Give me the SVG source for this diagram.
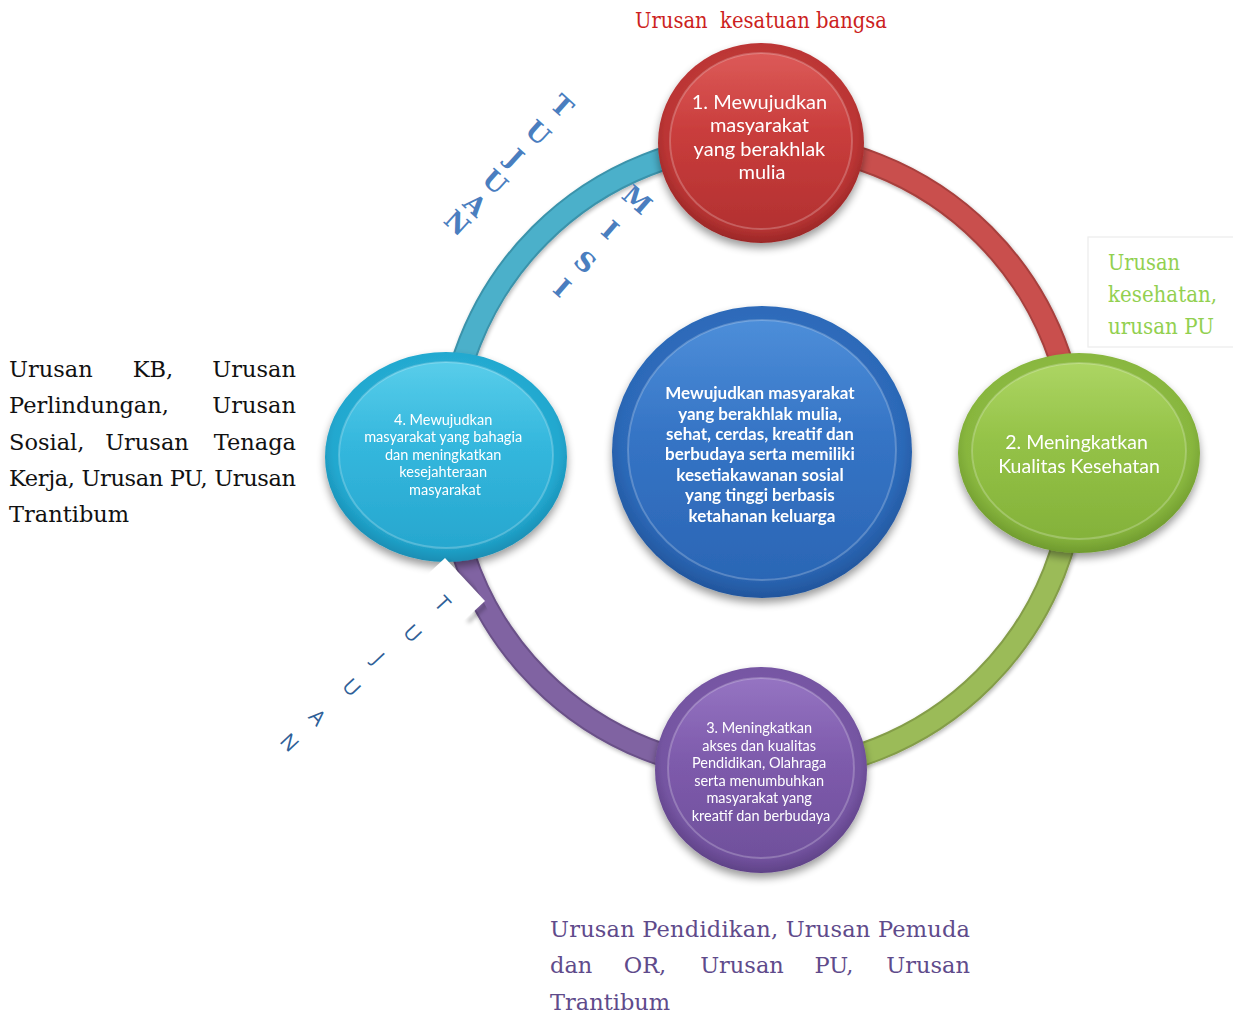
<svg xmlns="http://www.w3.org/2000/svg" width="1233" height="1014" viewBox="0 0 1233 1014">
<defs>
  <filter id="shadow" x="-20%" y="-20%" width="140%" height="150%">
    <feGaussianBlur in="SourceAlpha" stdDeviation="4"/>
    <feOffset dy="5"/>
    <feComponentTransfer><feFuncA type="linear" slope="0.4"/></feComponentTransfer>
    <feMerge><feMergeNode/><feMergeNode in="SourceGraphic"/></feMerge>
  </filter>
  <filter id="soft" x="-10%" y="-10%" width="120%" height="130%">
    <feGaussianBlur in="SourceAlpha" stdDeviation="2"/>
    <feOffset dx="1" dy="2"/>
    <feComponentTransfer><feFuncA type="linear" slope="0.3"/></feComponentTransfer>
    <feMerge><feMergeNode/><feMergeNode in="SourceGraphic"/></feMerge>
  </filter>
  <filter id="blur2" x="-50%" y="-50%" width="200%" height="200%">
    <feGaussianBlur stdDeviation="2"/>
  </filter>
  <clipPath id="ringClip">
    <path d="M 762 771 A 314 314 0 0 1 448 457 L 420 457 L 420 800 L 762 800 Z"/>
  </clipPath>
  <radialGradient id="rimRed" cx="50%" cy="45%" r="55%"><stop offset="0" stop-color="#d24a48"/><stop offset="0.85" stop-color="#bb3534"/><stop offset="1" stop-color="#9a2727"/></radialGradient>
  <linearGradient id="faceRed" x1="0" y1="0" x2="0" y2="1"><stop offset="0" stop-color="#dc5a58"/><stop offset="0.45" stop-color="#c93d3c"/><stop offset="1" stop-color="#b33131"/></linearGradient>
  <radialGradient id="rimGreen" cx="50%" cy="45%" r="55%"><stop offset="0" stop-color="#9fcb52"/><stop offset="0.85" stop-color="#88b63e"/><stop offset="1" stop-color="#6f9a2e"/></radialGradient>
  <linearGradient id="faceGreen" x1="0" y1="0" x2="0" y2="1"><stop offset="0" stop-color="#acd563"/><stop offset="0.45" stop-color="#94c247"/><stop offset="1" stop-color="#84b23a"/></linearGradient>
  <radialGradient id="rimPurple" cx="50%" cy="45%" r="55%"><stop offset="0" stop-color="#8a66b6"/><stop offset="0.85" stop-color="#7555a2"/><stop offset="1" stop-color="#5f4287"/></radialGradient>
  <linearGradient id="facePurple" x1="0" y1="0" x2="0" y2="1"><stop offset="0" stop-color="#9574c2"/><stop offset="0.45" stop-color="#7e5bac"/><stop offset="1" stop-color="#70509c"/></linearGradient>
  <radialGradient id="rimCyan" cx="50%" cy="45%" r="55%"><stop offset="0" stop-color="#3cc0e2"/><stop offset="0.85" stop-color="#22a8cf"/><stop offset="1" stop-color="#1a8db3"/></radialGradient>
  <linearGradient id="faceCyan" x1="0" y1="0" x2="0" y2="1"><stop offset="0" stop-color="#58cdea"/><stop offset="0.45" stop-color="#34b7dd"/><stop offset="1" stop-color="#27a7cf"/></linearGradient>
  <radialGradient id="rimBlue" cx="50%" cy="45%" r="55%"><stop offset="0" stop-color="#3d80d0"/><stop offset="0.85" stop-color="#2c69b8"/><stop offset="1" stop-color="#22559c"/></radialGradient>
  <linearGradient id="faceBlue" x1="0" y1="0" x2="0" y2="1"><stop offset="0" stop-color="#4d8ed9"/><stop offset="0.45" stop-color="#3574c5"/><stop offset="1" stop-color="#2b66b5"/></linearGradient>
</defs>
<style>
  .arc { fill: none; stroke-width: 24; }
  .arcIn { fill: none; stroke-width: 20; }
  .face { stroke: #ffffff; stroke-opacity: 0.22; stroke-width: 2; }
  .lbl { font-family: Lato, "Open Sans", sans-serif; fill: #ffffff; text-anchor: middle; }
  .serif { font-family: "DejaVu Serif", "Liberation Serif", serif; font-size: 22.5px; }
  .slab { font-family: "DejaVu Serif", serif; font-weight: bold; font-size: 26px; fill: #4a7ebf; text-anchor: middle; dominant-baseline: central; }
  .thin { font-family: "Open Sans", "Liberation Sans", sans-serif; font-size: 21px; fill: #2f5f98; text-anchor: middle; dominant-baseline: central; }
</style>

<rect width="1233" height="1014" fill="#ffffff"/>

<!-- ring segments between the four mission nodes -->
<g id="connectors" filter="url(#soft)">
  <path class="arc" stroke="#a8403e" d="M 762 143 A 314 314 0 0 1 1076 457"/>
  <path class="arcIn" stroke="#c9504e" d="M 762 143 A 314 314 0 0 1 1076 457"/>
  <path class="arc" stroke="#849d48" d="M 1076 457 A 314 314 0 0 1 762 771"/>
  <path class="arcIn" stroke="#9bbb59" d="M 1076 457 A 314 314 0 0 1 762 771"/>
  <path class="arc" stroke="#6b5189" d="M 762 771 A 314 314 0 0 1 448 457"/>
  <path class="arcIn" stroke="#8064a2" d="M 762 771 A 314 314 0 0 1 448 457"/>
  <path class="arc" stroke="#3b93ab" d="M 448 457 A 314 314 0 0 1 762 143"/>
  <path class="arcIn" stroke="#4bb0ca" d="M 448 457 A 314 314 0 0 1 762 143"/>
</g>

<!-- centre: vision -->
<g id="node-vision" filter="url(#shadow)">
  <ellipse cx="762" cy="452" rx="150" ry="146" fill="url(#rimBlue)"/>
  <ellipse class="face" cx="762" cy="450" rx="134" ry="130" fill="url(#faceBlue)"/>
  <text class="lbl" font-size="17" font-weight="bold">
    <tspan x="762" y="399">Mewujudkan masyarakat</tspan>
    <tspan x="762" y="420">yang berakhlak mulia,</tspan>
    <tspan x="762" y="440">sehat, cerdas, kreatif dan</tspan>
    <tspan x="762" y="460">berbudaya serta memiliki</tspan>
    <tspan x="762" y="481">kesetiakawanan sosial</tspan>
    <tspan x="762" y="501">yang tinggi berbasis</tspan>
    <tspan x="762" y="522">ketahanan keluarga</tspan>
  </text>
</g>

<!-- mission 1 -->
<g id="node-misi1" filter="url(#shadow)">
  <ellipse cx="761" cy="143" rx="103" ry="100" fill="url(#rimRed)"/>
  <ellipse class="face" cx="761" cy="141" rx="91" ry="88" fill="url(#faceRed)"/>
  <text class="lbl" font-size="20">
    <tspan x="762" y="109">1. Mewujudkan</tspan>
    <tspan x="762" y="132">masyarakat</tspan>
    <tspan x="762" y="156">yang berakhlak</tspan>
    <tspan x="762" y="179">mulia</tspan>
  </text>
</g>

<!-- mission 2 -->
<g id="node-misi2" filter="url(#shadow)">
  <ellipse cx="1079" cy="453" rx="121" ry="100" fill="url(#rimGreen)"/>
  <ellipse class="face" cx="1079" cy="451" rx="107" ry="88" fill="url(#faceGreen)"/>
  <text class="lbl" font-size="19.5">
    <tspan x="1079" y="449">2. Meningkatkan</tspan>
    <tspan x="1079" y="473">Kualitas Kesehatan</tspan>
  </text>
</g>

<!-- mission 3 -->
<g id="node-misi3" filter="url(#shadow)">
  <ellipse cx="761" cy="770" rx="106" ry="103" fill="url(#rimPurple)"/>
  <ellipse class="face" cx="761" cy="768" rx="93" ry="90" fill="url(#facePurple)"/>
  <text class="lbl" font-size="14.5">
    <tspan x="761" y="733">3. Meningkatkan</tspan>
    <tspan x="761" y="751">akses dan kualitas</tspan>
    <tspan x="761" y="768">Pendidikan, Olahraga</tspan>
    <tspan x="761" y="786">serta menumbuhkan</tspan>
    <tspan x="761" y="803">masyarakat yang</tspan>
    <tspan x="761" y="821">kreatif dan berbudaya</tspan>
  </text>
</g>

<!-- mission 4 -->
<g id="node-misi4" filter="url(#shadow)">
  <ellipse cx="446" cy="457" rx="121" ry="105" fill="url(#rimCyan)"/>
  <ellipse class="face" cx="446" cy="455" rx="107" ry="93" fill="url(#faceCyan)"/>
  <text class="lbl" font-size="14.5">
    <tspan x="445" y="425">4. Mewujudkan</tspan>
    <tspan x="445" y="442">masyarakat yang bahagia</tspan>
    <tspan x="445" y="460">dan meningkatkan</tspan>
    <tspan x="445" y="477">kesejahteraan</tspan>
    <tspan x="445" y="495">masyarakat</tspan>
  </text>
</g>

<!-- lower-left "TUJUAN" label panel (white, shadow only shows over the ring) -->
<g id="label-tujuan-bawah">
  <path d="M 447 562 L 487 604 L 468 622" fill="none" stroke="#000000" stroke-opacity="0.35" stroke-width="3" filter="url(#blur2)" clip-path="url(#ringClip)"/>
  <polygon points="445,558 485,601 302,771 262,728" fill="#ffffff"/>
  <text class="thin" transform="translate(443,603) rotate(47)">T</text>
  <text class="thin" transform="translate(413,633) rotate(47)">U</text>
  <text class="thin" transform="translate(379,658) rotate(47)">J</text>
  <text class="thin" transform="translate(352,687) rotate(47)">U</text>
  <text class="thin" transform="translate(318,717) rotate(47)">A</text>
  <text class="thin" transform="translate(290,742) rotate(47)">N</text>
</g>

<!-- upper-left "TUJUAN" label -->
<g id="label-tujuan-atas">
  <text class="slab" transform="translate(562,106) rotate(42)">T</text>
  <text class="slab" transform="translate(538,133) rotate(42)">U</text>
  <text class="slab" transform="translate(515,158) rotate(42)">J</text>
  <text class="slab" transform="translate(495,182) rotate(42)">U</text>
  <text class="slab" transform="translate(475,205) rotate(42)">A</text>
  <text class="slab" transform="translate(457,223) rotate(42)">N</text>
</g>

<!-- "MISI" label -->
<g id="label-misi">
  <text class="slab" transform="translate(637,200) rotate(41)">M</text>
  <text class="slab" transform="translate(610,230) rotate(41)">I</text>
  <text class="slab" transform="translate(585,262) rotate(41)">S</text>
  <text class="slab" transform="translate(562,288) rotate(41)">I</text>
</g>

<!-- affairs linked to mission 1 -->
<g id="note-misi1">
  <text class="serif" font-size="19.5" fill="#cc1f22" x="635" y="28" textLength="252" lengthAdjust="spacingAndGlyphs" xml:space="preserve">Urusan  kesatuan bangsa</text>
</g>

<!-- affairs linked to mission 2 -->
<g id="note-misi2">
  <rect x="1088" y="237" width="150" height="110" fill="#ffffff" stroke="#ececec" stroke-width="1.2"/>
  <text class="serif" font-size="19.5" fill="#92d050" x="1108" y="270" textLength="72" lengthAdjust="spacingAndGlyphs">Urusan</text>
  <text class="serif" font-size="19.5" fill="#92d050" x="1108" y="302" textLength="109" lengthAdjust="spacingAndGlyphs">kesehatan,</text>
  <text class="serif" font-size="19.5" fill="#92d050" x="1108" y="334" textLength="106" lengthAdjust="spacingAndGlyphs">urusan PU</text>
</g>

<!-- affairs linked to mission 4 -->
<g id="note-misi4" class="serif" fill="#111111">
  <text x="9" y="377">Urusan</text>
  <text x="153" y="377" text-anchor="middle">KB,</text>
  <text x="296" y="377" text-anchor="end">Urusan</text>
  <text x="9" y="413">Perlindungan,</text>
  <text x="296" y="413" text-anchor="end">Urusan</text>
  <text x="9" y="450">Sosial,</text>
  <text x="147" y="450" text-anchor="middle">Urusan</text>
  <text x="296" y="450" text-anchor="end">Tenaga</text>
  <text x="9" y="486" textLength="287" lengthAdjust="spacing">Kerja, Urusan PU, Urusan</text>
  <text x="9" y="522">Trantibum</text>
</g>

<!-- affairs linked to mission 3 -->
<g id="note-misi3" class="serif" fill="#5f4b8b">
  <text x="550" y="937" textLength="420" lengthAdjust="spacing">Urusan Pendidikan, Urusan Pemuda</text>
  <text x="550" y="973">dan</text>
  <text x="645" y="973" text-anchor="middle">OR,</text>
  <text x="742" y="973" text-anchor="middle">Urusan</text>
  <text x="834" y="973" text-anchor="middle">PU,</text>
  <text x="970" y="973" text-anchor="end">Urusan</text>
  <text x="550" y="1010">Trantibum</text>
</g>
</svg>
